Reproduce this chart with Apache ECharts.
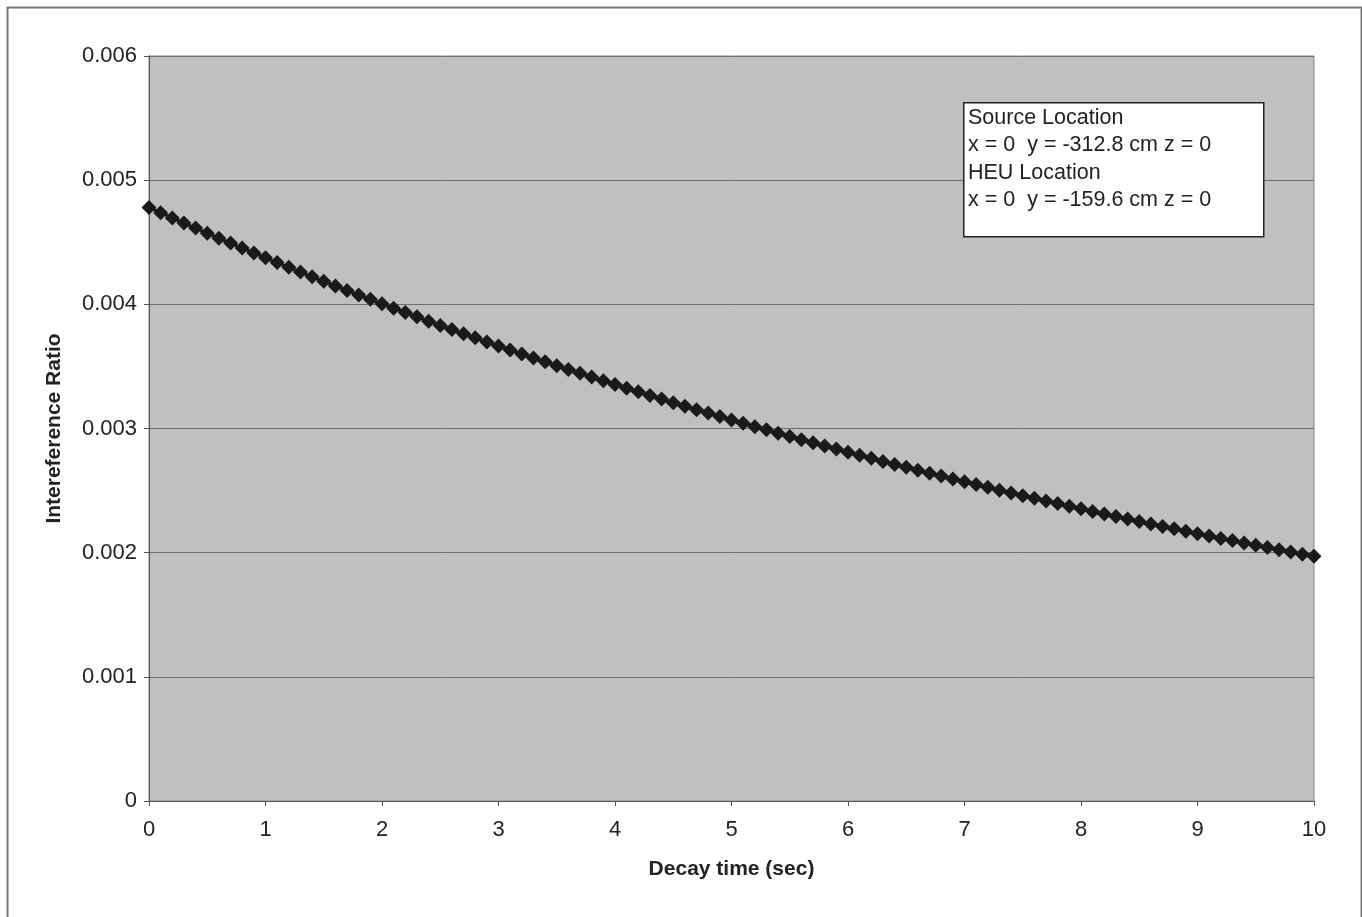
<!DOCTYPE html>
<html>
<head>
<meta charset="utf-8">
<script src="https://cdn.jsdelivr.net/npm/echarts@6/dist/echarts.min.js"></script>
<style>
  html, body { margin: 0; padding: 0; background: #fff; }
  #main { width: 1362px; height: 917px; }
</style>
</head>
<body>
<div id="main"></div>
<script>
// decay time in seconds, one point every 0.1 s
var times = [];
for (var i = 0; i <= 100; i++) times.push(+(i / 10).toFixed(1));

// interference ratio
var ratios = [
  0.004780, 0.004738, 0.004696, 0.004655, 0.004614, 0.004573, 0.004533, 0.004493, 0.004453, 0.004414,
  0.004375, 0.004336, 0.004298, 0.004260, 0.004222, 0.004185, 0.004148, 0.004112, 0.004075, 0.004040,
  0.004004, 0.003969, 0.003934, 0.003899, 0.003864, 0.003830, 0.003797, 0.003763, 0.003730, 0.003697,
  0.003664, 0.003632, 0.003600, 0.003568, 0.003537, 0.003506, 0.003475, 0.003444, 0.003414, 0.003384,
  0.003354, 0.003324, 0.003295, 0.003266, 0.003237, 0.003208, 0.003180, 0.003152, 0.003124, 0.003097,
  0.003069, 0.003042, 0.003015, 0.002989, 0.002962, 0.002936, 0.002910, 0.002885, 0.002859, 0.002834,
  0.002809, 0.002784, 0.002760, 0.002735, 0.002711, 0.002687, 0.002664, 0.002640, 0.002617, 0.002594,
  0.002571, 0.002548, 0.002526, 0.002503, 0.002481, 0.002459, 0.002438, 0.002416, 0.002395, 0.002374,
  0.002353, 0.002332, 0.002311, 0.002291, 0.002271, 0.002251, 0.002231, 0.002211, 0.002192, 0.002173,
  0.002153, 0.002134, 0.002115, 0.002097, 0.002078, 0.002060, 0.002042, 0.002024, 0.002006, 0.001988,
  0.001971
];

var noteLines = [
  'Source Location',
  'x = 0  y = -312.8 cm z = 0',
  'HEU Location',
  'x = 0  y = -159.6 cm z = 0'
];

var points = times.map(function (t, i) { return [t, ratios[i]]; });

var chart = echarts.init(document.getElementById('main'));
var font = 'Arial, "Liberation Sans", sans-serif';

var noteBox = [{
  type: 'rect',
  left: 963, top: 102, z: 100,
  shape: { width: 300, height: 134 },
  style: { fill: '#ffffff', stroke: '#222', lineWidth: 1.5 }
}];
noteLines.forEach(function (s, i) {
  noteBox.push({
    type: 'text',
    left: 968, top: 107 + i * 27.3, z: 101,
    style: { text: s, fontFamily: font, fontSize: 21.5, fill: '#222' }
  });
});

var option = {
  animation: false,
  backgroundColor: '#ffffff',
  grid: {
    left: 149, right: 48, top: 56, bottom: 116,
    show: true,
    backgroundColor: '#c0c0c0',
    borderColor: '#8a8a8a',
    borderWidth: 1
  },
  xAxis: {
    type: 'value',
    min: 0, max: 10, interval: 1,
    name: 'Decay time (sec)',
    nameLocation: 'middle',
    nameGap: 58,
    nameTextStyle: { fontFamily: font, fontSize: 21, fontWeight: 'bold', color: '#222' },
    axisLine: { show: true, lineStyle: { color: '#555', width: 1 } },
    axisTick: { show: true, length: 5, lineStyle: { color: '#555' } },
    axisLabel: { fontFamily: font, fontSize: 22, color: '#222', margin: 18 },
    splitLine: { show: false }
  },
  yAxis: {
    type: 'value',
    min: 0, max: 0.006, interval: 0.001,
    name: 'Intereference Ratio',
    nameLocation: 'middle',
    nameGap: 84,
    nameTextStyle: { fontFamily: font, fontSize: 21, fontWeight: 'bold', color: '#222' },
    axisLine: { show: true, lineStyle: { color: '#555', width: 1 } },
    axisTick: { show: true, length: 5, lineStyle: { color: '#555' } },
    axisLabel: {
      fontFamily: font, fontSize: 22, color: '#222', margin: 12,
      formatter: function (v) { return v === 0 ? '0' : v.toFixed(3); }
    },
    splitLine: { show: true, lineStyle: { color: '#6e6e6e', width: 1 } }
  },
  series: [{
    type: 'line',
    data: points,
    symbol: 'diamond',
    symbolSize: 15,
    lineStyle: { color: '#1a1a1a', width: 3 },
    itemStyle: { color: '#1a1a1a' },
    z: 3
  }],
  graphic: [
    {
      type: 'rect',
      left: 5, top: 5,
      shape: { width: 1354, height: 940 },
      style: { fill: 'none', stroke: '#777', lineWidth: 2 },
      silent: true, z: -1
    }
  ].concat(noteBox)
};

chart.setOption(option);
</script>
</body>
</html>
